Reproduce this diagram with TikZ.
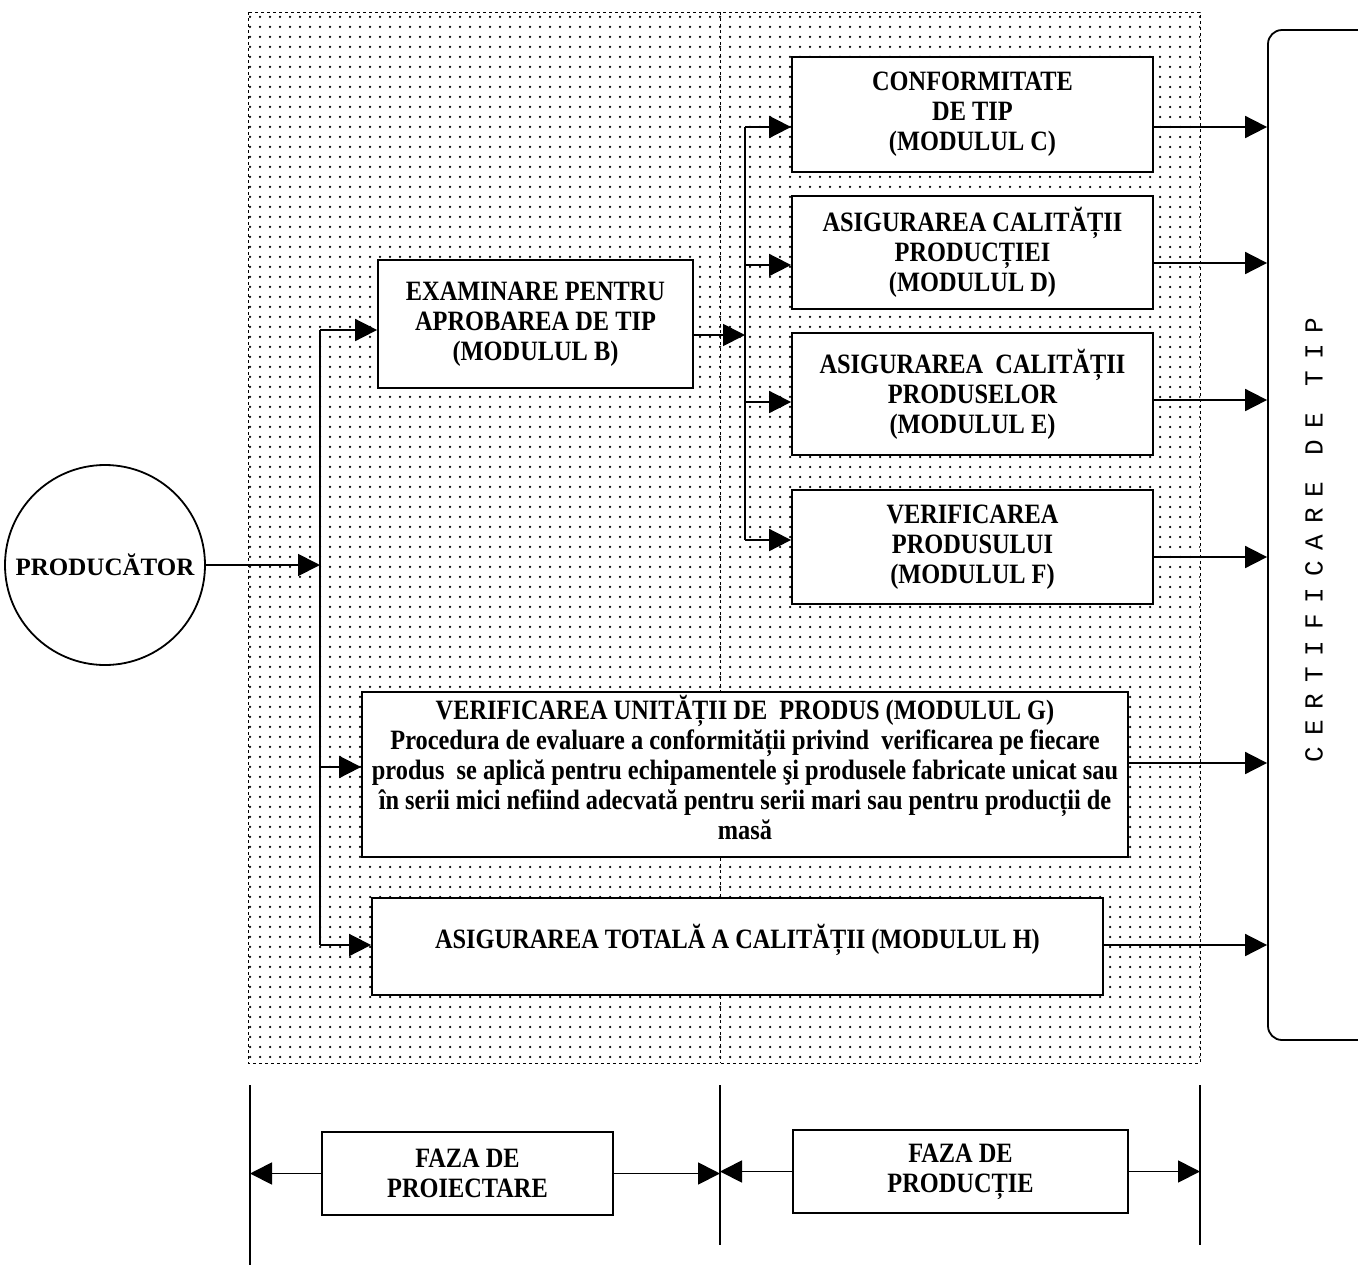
\documentclass[tikz,border=0pt]{standalone}
\usepackage{fontspec}
\setmainfont{Liberation Serif}
\newfontfamily\boxfont[FakeStretch = 0.87]{Liberation Serif}
\newfontfamily\certfont[LetterSpace = 42]{Liberation Mono}
\usetikzlibrary{arrows.meta, patterns}

\pgfdeclarepatternformonly{sparse dots}{\pgfqpoint{-2pt}{-2pt}}{\pgfqpoint{2pt}{2pt}}{\pgfqpoint{10pt}{10pt}}
{\pgfpathcircle{\pgfqpoint{0pt}{0pt}}{1.25pt}\pgfusepath{fill}}

\begin{document}
\begin{tikzpicture}[x = 1pt, y = -1pt, line width = 1.8pt,
	box/.style = {draw = black, fill = white, align = center, inner sep = 2pt,
		font = \boxfont\bfseries\fontsize{28}{30}\selectfont},
	arr/.style = {-{Triangle[length = 22pt, width = 22pt]}}]

	\useasboundingbox (0, 0) rectangle (1358, 1267);

	\path[pattern = sparse dots] (248, 12) rectangle (1200, 1063);
	\draw[line width = 1pt, dashed] (248, 12) rectangle (1200, 1063);
	\draw[line width = 1pt, dashed] (720, 12) -- (720, 1063);

		\node (P)  at ( 105,  565) [circle, draw, minimum size = 200, inner sep = 0pt,
			font = \bfseries\fontsize{25}{30}\selectfont] {PRODUCĂTOR};
		\node (B)  at ( 535.5, 324) [box, minimum width = 315, minimum height = 128]
			{\rule{0pt}{12pt}EXAMINARE PENTRU\\ APROBAREA DE TIP\\ (MODULUL B)};
		\node (C)  at ( 972.5, 114.5) [box, minimum width = 361, minimum height = 115]
			{CONFORMITATE\\ DE TIP\\ (MODULUL C)};
		\node (D)  at ( 972.5, 252.5) [box, minimum width = 361, minimum height = 113]
			{ASIGURAREA CALITĂȚII\\ PRODUCȚIEI\\ (MODULUL D)};
		\node (E)  at ( 972.5, 394) [box, minimum width = 361, minimum height = 122]
			{ASIGURAREA \ CALITĂȚII\\ PRODUSELOR\\ (MODULUL E)};
		\node (F)  at ( 972.5, 547) [box, minimum width = 361, minimum height = 114]
			{VERIFICAREA\\ PRODUSULUI\\ (MODULUL F)};
		\node (G)  at ( 745,  774.5) [box, minimum width = 766, minimum height = 165]
			{VERIFICAREA UNITĂȚII DE \ PRODUS (MODULUL G)\\
			Procedura de evaluare a conformității privind \ verificarea pe fiecare\\
			produs \ se aplică pentru echipamentele şi produsele fabricate unicat sau\\
			în serii mici nefiind adecvată pentru serii mari sau pentru producții de\\
			masă\rule[-14pt]{0pt}{0pt}};
		\node (H)  at ( 737.5, 946.5) [box, minimum width = 731, minimum height = 97]
			{ASIGURAREA TOTALĂ A CALITĂȚII (MODULUL H)\rule[-20pt]{0pt}{0pt}};
		\node (cert) at (1334, 535) [draw, rounded corners = 14, minimum width = 132,
			minimum height = 1010] {};
		\node (certtext) at (1314, 540) [rotate = 90,
			font = \certfont\fontsize{26}{30}\selectfont] {CERTIFICARE DE TIP};
		\node (PR) at ( 467.5, 1173.5) [box, minimum width = 291, minimum height = 83]
			{FAZA DE\\ PROIECTARE};
		\node (PD) at ( 960.5, 1171.5) [box, minimum width = 335, minimum height = 83]
			{FAZA DE\\ PRODUCȚIE};

		\coordinate (busT)  at ( 320,  330);
		\coordinate (busP)  at ( 320,  565);
		\coordinate (busG)  at ( 320,  767);
		\coordinate (busH)  at ( 320,  945);
		\coordinate (bus2T) at ( 745,  127);
		\coordinate (bus2M) at ( 745,  335);
		\coordinate (bus2B) at ( 745,  540);
		\coordinate (L1t)   at ( 250, 1085);
		\coordinate (L1b)   at ( 250, 1265);
		\coordinate (L2t)   at ( 720, 1085);
		\coordinate (L2b)   at ( 720, 1245);
		\coordinate (L3t)   at (1200, 1085);
		\coordinate (L3b)   at (1200, 1245);

		\draw (busT) -- (busH);
		\draw (bus2T) -- (bus2B);
		\draw[line width = 1.4pt] (L1t) -- (L1b) (L2t) -- (L2b) (L3t) -- (L3b);

		\draw[arr] (P.east) -- (busP);
		\draw[arr] (bus2M -| B.east) -- (bus2M);

		\foreach \from/\to in {busT/B, busG/G, busH/H}
			\draw[arr] (\from) -- (\from -| \to.west);

		\foreach \to/\y in {C/127, D/265, E/402, F/540}
			\draw[arr] (745, \y) -- (\to.west |- 745, \y);

		\foreach \from/\y in {C/127, D/263, E/400, F/557, G/763, H/945}
			\draw[arr] (\from.east |- 0, \y) -- (cert.west |- 0, \y);

		\foreach \from/\to in {PR.west/L1t, PR.east/L2t, PD.west/L2t, PD.east/L3t}
			\draw[arr] (\from) -- (\from -| \to);

\end{tikzpicture}
\end{document}
